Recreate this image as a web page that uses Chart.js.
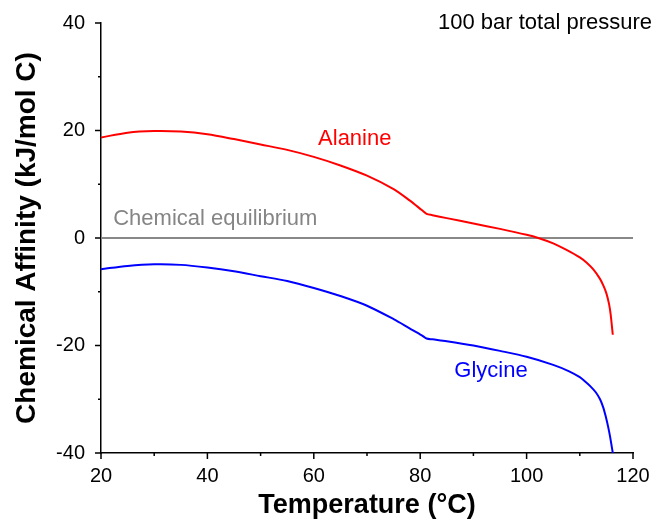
<!DOCTYPE html>
<html>
<head>
<meta charset="utf-8">
<script src="https://cdn.jsdelivr.net/npm/chart.js@4/dist/chart.umd.min.js"></script>
<style>
  html, body { margin: 0; padding: 0; background: #fff; }
  #wrap { width: 656px; height: 522px; }
</style>
</head>
<body>
<div id="wrap"><canvas id="c" width="656" height="522"></canvas></div>
<script>
// ---- Data ----
const alanineT = [20, 25, 30, 35, 40, 45, 50, 55, 60, 65, 70, 75, 78, 80.3, 81.2, 82.3, 85, 90, 95, 100, 102.2, 105, 107.5, 110, 111.3, 112.5, 113.8, 114.5, 115, 115.5, 115.8, 116.2];
const alanineA = [18.7, 19.6, 19.9, 19.8, 19.3, 18.4, 17.4, 16.4, 15.1, 13.5, 11.6, 9.1, 7.0, 5.2, 4.5, 4.25, 3.7, 2.7, 1.7, 0.6, 0, -1.0, -2.2, -3.6, -4.6, -5.8, -7.6, -9.0, -10.3, -12.3, -14.2, -18];
const glycineT = [20, 25, 30, 35, 40, 45, 50, 55, 60, 65, 70, 75, 78, 80.3, 81.2, 82.3, 85, 90, 95, 100, 105, 108, 110, 111, 112, 113, 113.8, 114.4, 114.9, 115.3, 115.7, 116.2];
const glycineA = [-5.8, -5.2, -4.9, -5.0, -5.5, -6.2, -7.1, -8.0, -9.3, -10.8, -12.6, -15.1, -16.8, -18.1, -18.7, -18.85, -19.2, -20.0, -21.0, -22.1, -23.6, -24.8, -25.9, -26.7, -27.6, -28.7, -30.0, -31.5, -33.3, -35.0, -37, -40];
const equilibriumT = [20, 120];
const equilibriumA = [0, 0];
const xTickValues = [20, 40, 60, 80, 100, 120];
const yTickValues = [-40, -20, 0, 20, 40];
const seriesLabels = ['Alanine', 'Glycine', 'Chemical equilibrium'];
const noteText = '100 bar total pressure';

const FONT = '"Liberation Sans", Arial, Helvetica, sans-serif';
const toXY = (xs, ys) => xs.map((x, i) => ({x: x, y: ys[i]}));

// Draw major/minor outward ticks and in-plot labels
const decor = {
  id: 'decor',
  afterDraw(chart) {
    const ctx = chart.ctx;
    const xs = chart.scales.x, ys = chart.scales.y;
    ctx.save();
    ctx.strokeStyle = '#000';
    ctx.lineWidth = 1.5;
    for (let v = xs.min; v <= xs.max + 1e-9; v += 10) {
      const px = xs.getPixelForValue(v);
      const len = xTickValues.includes(v) ? 6 : 3;
      ctx.beginPath();
      ctx.moveTo(px, xs.top);
      ctx.lineTo(px, xs.top + len);
      ctx.stroke();
    }
    for (let v = ys.min; v <= ys.max + 1e-9; v += 10) {
      const py = ys.getPixelForValue(v);
      const len = yTickValues.includes(v) ? 6 : 3;
      ctx.beginPath();
      ctx.moveTo(ys.right, py);
      ctx.lineTo(ys.right - len, py);
      ctx.stroke();
    }
    // labels
    ctx.textBaseline = 'middle';
    ctx.font = '22px ' + FONT;
    ctx.textAlign = 'center';
    ctx.fillStyle = '#ff0000';
    ctx.fillText(seriesLabels[0], xs.getPixelForValue(67.7), ys.getPixelForValue(18.4));
    ctx.fillStyle = '#0000ff';
    ctx.fillText(seriesLabels[1], xs.getPixelForValue(93.3), ys.getPixelForValue(-24.7));
    ctx.textAlign = 'left';
    ctx.fillStyle = '#858585';
    ctx.fillText(seriesLabels[2], xs.getPixelForValue(22.3), ys.getPixelForValue(3.6));
    ctx.textAlign = 'right';
    ctx.fillStyle = '#000';
    ctx.font = '22px ' + FONT;
    ctx.fillText(noteText, chart.width - 4, 23);
    ctx.restore();
  }
};

new Chart(document.getElementById('c'), {
  type: 'line',
  data: {
    datasets: [
      { label: seriesLabels[2], data: toXY(equilibriumT, equilibriumA), borderColor: '#888888', borderWidth: 2, pointRadius: 0, order: 3 },
      { label: seriesLabels[0], data: toXY(alanineT, alanineA), borderColor: '#ff0000', borderWidth: 2, pointRadius: 0, tension: 0.3, order: 1 },
      { label: seriesLabels[1], data: toXY(glycineT, glycineA), borderColor: '#0000ff', borderWidth: 2, pointRadius: 0, tension: 0.3, order: 2 }
    ]
  },
  options: {
    responsive: false,
    animation: false,
    devicePixelRatio: 1,
    layout: { padding: { left: 0, right: 23, top: 23, bottom: 0 } },
    plugins: { legend: { display: false }, tooltip: { enabled: false }, title: { display: false } },
    elements: { line: { fill: false } },
    scales: {
      x: {
        type: 'linear', min: 20, max: 120,
        afterBuildTicks(s) { s.ticks = xTickValues.map(v => ({value: v})); },
        afterFit(s) { s.height = 69; s.paddingLeft = 0; s.paddingRight = 0; },
        grid: { display: false, drawTicks: false },
        border: { display: true, color: '#000', width: 1.5 },
        ticks: { color: '#000', font: { family: FONT, size: 20 }, padding: 11, maxRotation: 0, autoSkip: false },
        title: { display: true, text: 'Temperature (°C)', color: '#000', font: { family: FONT, size: 27, weight: 'bold' }, padding: { top: 0, bottom: 0 } }
      },
      y: {
        type: 'linear', min: -40, max: 40,
        afterBuildTicks(s) { s.ticks = yTickValues.map(v => ({value: v})); },
        afterFit(s) { s.width = 101; s.paddingTop = 0; s.paddingBottom = 0; },
        grid: { display: false, drawTicks: false },
        border: { display: true, color: '#000', width: 1.5 },
        ticks: { color: '#000', font: { family: FONT, size: 20 }, padding: 16, autoSkip: false },
        title: { display: true, text: 'Chemical Affinity (kJ/mol C)', color: '#000', font: { family: FONT, size: 28, weight: 'bold' }, padding: { top: 10, bottom: 0 } }
      }
    }
  },
  plugins: [decor]
});
</script>
</body>
</html>
